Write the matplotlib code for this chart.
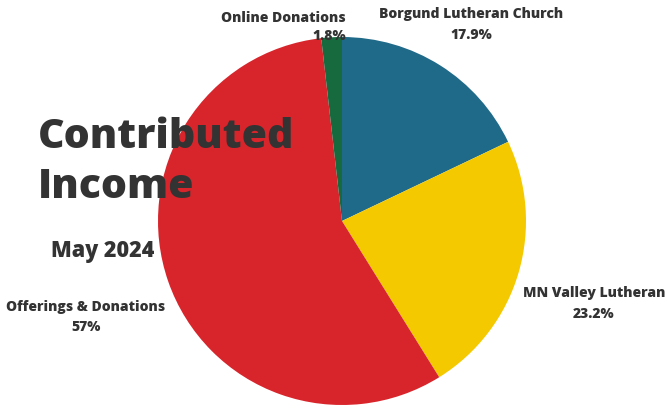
import matplotlib
matplotlib.use("Agg")
import matplotlib.pyplot as plt

categories = ["Borgund Lutheran Church", "MN Valley Lutheran", "Offerings & Donations", "Online Donations"]
values = [17.9, 23.2, 57.0, 1.8]
pct_labels = ["17.9%", "23.2%", "57%", "1.8%"]
colors = ["#1f6a88", "#f4c900", "#d8252b", "#17693e"]

W, H = 667, 408
fig = plt.figure(figsize=(W / 100, H / 100), dpi=100)
ax = fig.add_axes([0, 0, 1, 1])

cx, cy, r = 342, H - 221, 184
ax.pie(values, colors=colors, startangle=90, counterclock=False,
       center=(cx, cy), radius=r, frame=True,
       wedgeprops=dict(linewidth=0))
ax.set_xlim(0, W)
ax.set_ylim(0, H)
ax.set_aspect("equal")
ax.axis("off")

fam = ["Open Sans", "DejaVu Sans"]
tc = "#333333"
ax.text(38, H - 137, "Contributed", fontsize=29.5, fontweight="heavy", family=fam, color=tc, va="center", ha="left")
ax.text(38, H - 188, "Income", fontsize=29.5, fontweight="heavy", family=fam, color=tc, va="center", ha="left")
ax.text(51, H - 251, "May 2024", fontsize=15.5, fontweight="heavy", family=fam, color=tc, va="center", ha="left")

lab_fs = 10
label_pos = {
    "Borgund Lutheran Church": (471, 14, 35, "center"),
    "MN Valley Lutheran": (594, 293, 314, "center"),
    "Offerings & Donations": (86, 307, 327, "center"),
    "Online Donations": (346, 18, 36, "right"),
}
for cat, pct in zip(categories, pct_labels):
    x, y1, y2, ha = label_pos[cat]
    ax.text(x, H - y1, cat, fontsize=lab_fs, fontweight="heavy", family=fam, color=tc, ha=ha, va="center")
    ax.text(x, H - y2, pct, fontsize=lab_fs, fontweight="heavy", family=fam, color=tc, ha=ha, va="center")

fig.savefig("out.png", dpi=100)
